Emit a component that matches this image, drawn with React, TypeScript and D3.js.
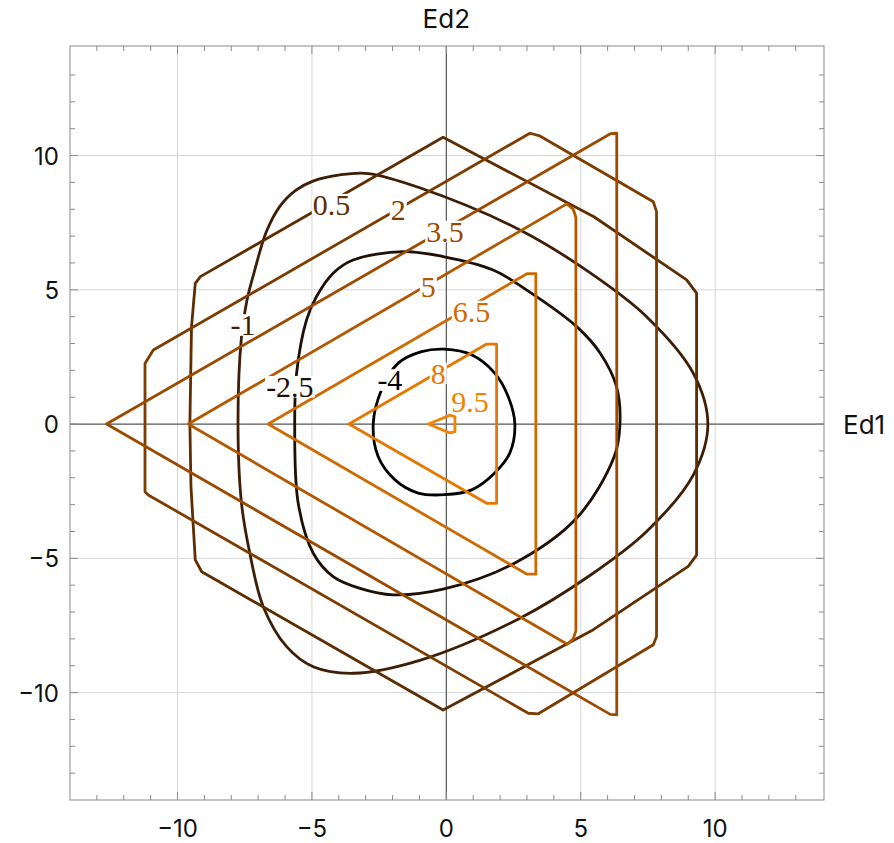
import React from "react";
import * as d3 from "d3";

const WIDTH = 894;
const HEIGHT = 843;

const X_DOMAIN: [number, number] = [-14, 14.05];
const Y_DOMAIN: [number, number] = [-14, 14.08];

const MAJOR_TICKS = [-10, -5, 0, 5, 10];
const X_TICK_LABELS = ["−10", "−5", "0", "5", "10"];
const Y_TICK_LABELS = ["−10", "−5", "0", "5", "10"];
const MINOR_TICKS = [-13, -12, -11, -9, -8, -7, -6, -4, -3, -2, -1, 1, 2, 3, 4, 6, 7, 8, 9, 11, 12, 13];
const GRID_VALUES = [-10, -5, 5, 10];

const LEVEL_NAMES = ["-4", "-2.5", "-1", "0.5", "2", "3.5", "5", "6.5", "8", "9.5"];
const LEVEL_COLORS = ["#000000", "#1f0f04", "#3e1e06", "#5e2e02", "#7e3c00", "#9c4a00", "#b45800", "#cf6a00", "#e67800", "#f28300"];

type P = [number, number];

// smooth closed contours
const C_M4: P[] = [[-2.72, 0], [-2.41, 1.28], [-1.79, 2.27], [-0.92, 2.7], [-0.06, 2.79], [0.94, 2.58], [1.8, 1.9], [2.3, 1.03], [2.55, 0], [2.36, -1.08], [1.8, -1.82], [0.94, -2.45], [-0.06, -2.63], [-1.05, -2.57], [-1.92, -2.07], [-2.54, -1.2]];
const C_M25: P[] = [[-5.64, 0], [-5.57, 1.9], [-5.2, 3.88], [-4.83, 4.75], [-4.21, 5.62], [-3.47, 6.11], [-1.61, 6.42], [-0.12, 6.24], [1.74, 5.74], [2.98, 5.0], [4.85, 3.63], [5.72, 2.65], [6.33, 1.4], [6.46, 0], [6.25, -1.2], [4.85, -3.5], [2.5, -5.2], [-0.12, -6.15], [-1.98, -6.36], [-3.21, -6.12], [-4.21, -5.68], [-4.95, -4.81], [-5.51, -2.95]];
const C_M1: P[] = [[-7.75, 0], [-7.62, 3.26], [-7.42, 4.6], [-7.15, 5.65], [-6.7, 7.15], [-6.2, 8.1], [-5.58, 8.72], [-4.96, 9.05], [-3.96, 9.28], [-2.9, 9.33], [-0.99, 8.8], [2.74, 7.23], [5.34, 5.64], [7.45, 4.0], [9.19, 1.89], [9.73, 0], [9.19, -1.89], [7.45, -4.0], [5.34, -5.64], [2.74, -7.23], [-0.99, -8.8], [-3.46, -9.28], [-4.95, -9.04], [-5.94, -8.29], [-6.81, -6.8], [-7.31, -4.81], [-7.62, -2.95]];

// polygonal contours
const C_05: P[] = [[-9.34, 5.24], [-9.15, 5.49], [-0.12, 10.68], [5.49, 7.72], [8.94, 5.37], [9.31, 4.88], [9.31, -4.88], [9.0, -5.3], [5.4, -7.7], [-0.12, -10.65], [-9.1, -5.5], [-9.34, -5.06], [-9.5, -2.33], [-9.54, 0], [-9.48, 3.62]];
const C_2: P[] = [[-11.21, 2.26], [-10.9, 2.76], [3.11, 10.83], [3.48, 10.73], [7.7, 8.28], [7.82, 7.91], [7.82, -7.91], [7.7, -8.22], [3.42, -10.79], [3.05, -10.77], [-11.09, -2.64], [-11.21, -2.52]];
const C_35: P[] = [[-12.64, 0], [6.12, 10.82], [6.34, 10.83], [6.34, -10.83], [6.1, -10.81]];
const C_5: P[] = [[-9.6, 0], [4.48, 8.2], [4.72, 8.0], [4.82, 7.7], [4.82, -7.7], [4.72, -8.0], [4.5, -8.2]];
const C_65: P[] = [[-6.63, 0], [3.0, 5.6], [3.33, 5.6], [3.33, -5.59], [3.0, -5.59]];
const C_8: P[] = [[-3.62, 0], [1.5, 2.98], [1.87, 2.98], [1.87, -2.95], [1.5, -2.95]];
const C_95: P[] = [[-0.67, 0], [0.13, 0.33], [0.32, 0.28], [0.32, -0.28], [0.13, -0.33]];

const CONTOUR_POINTS = [C_M4, C_M25, C_M1, C_05, C_2, C_35, C_5, C_65, C_8, C_95];
const CONTOUR_SMOOTH = [true, true, true, false, false, false, false, false, false, false];

// label anchor points (data coords)
const LABEL_POS: P[] = [[-2.1, 1.64], [-5.82, 1.39], [-7.56, 3.69], [-4.27, 8.17], [-1.79, 7.97], [-0.05, 7.17], [-0.67, 5.12], [0.94, 4.19], [-0.3, 1.89], [0.88, 0.83]];

const LABEL_FS = 30;
const TICK_FS = 24;
const AXIS_LABEL_FS = 26;
const SANS = "Inter, 'Noto Sans', sans-serif";
const SERIF = "'Liberation Serif', 'Times New Roman', serif";

function charW(c: string) {
  if (c === ".") return 0.25;
  if (c === "-") return 0.333;
  return 0.5;
}

export default function App() {
  const left = 70, right = 824, top = 46, bottom = 800;
  const x = d3.scaleLinear().domain(X_DOMAIN).range([left, right]);
  const y = d3.scaleLinear().domain(Y_DOMAIN).range([bottom, top]);

  const smooth = d3.line<P>().x((d) => x(d[0])).y((d) => y(d[1])).curve(d3.curveCatmullRomClosed.alpha(0.5));
  const poly = d3.line<P>().x((d) => x(d[0])).y((d) => y(d[1])).curve(d3.curveLinearClosed);

  const frameColor = "#8a8a8a";

  return (
    <svg width={WIDTH} height={HEIGHT} style={{ display: "block", position: "absolute", left: 0, top: 0 }}>
      <rect x={0} y={0} width={WIDTH} height={HEIGHT} fill="#fff" />
      {/* grid */}
      {GRID_VALUES.map((v) => (
        <g key={"g" + v}>
          <line x1={x(v)} x2={x(v)} y1={top} y2={bottom} stroke="#d6d6d6" strokeWidth={1} />
          <line x1={left} x2={right} y1={y(v)} y2={y(v)} stroke="#d6d6d6" strokeWidth={1} />
        </g>
      ))}
      {/* axes */}
      <line x1={x(0)} x2={x(0)} y1={top} y2={bottom} stroke="#555" strokeWidth={1.2} />
      <line x1={left} x2={right} y1={y(0)} y2={y(0)} stroke="#555" strokeWidth={1.2} />
      {/* contours */}
      {CONTOUR_POINTS.map((pts, i) => (
        <path key={"c" + i} d={(CONTOUR_SMOOTH[i] ? smooth(pts) : poly(pts)) || ""} fill="none" stroke={LEVEL_COLORS[i]} strokeWidth={2.8} strokeLinejoin="round" />
      ))}
      {/* labels */}
      {LEVEL_NAMES.map((name, i) => {
        const cx = x(LABEL_POS[i][0]);
        const cy = y(LABEL_POS[i][1]);
        const w = name.split("").reduce((s, c) => s + charW(c), 0) * LABEL_FS;
        const h = 0.72 * LABEL_FS;
        return (
          <g key={"l" + i}>
            <rect x={cx - w / 2 - 1} y={cy - h / 2} width={w + 2} height={h} fill="#fff" />
            <text x={cx} y={cy + 0.34 * LABEL_FS} textAnchor="middle" fontFamily={SERIF} fontSize={LABEL_FS} fill={LEVEL_COLORS[i]}>
              {name}
            </text>
          </g>
        );
      })}
      {/* frame */}
      <rect x={left} y={top} width={right - left} height={bottom - top} fill="none" stroke={frameColor} strokeWidth={1} />
      {MAJOR_TICKS.map((v) => (
        <g key={"mt" + v} stroke={frameColor} strokeWidth={1}>
          <line x1={x(v)} x2={x(v)} y1={bottom} y2={bottom - 8} />
          <line x1={x(v)} x2={x(v)} y1={top} y2={top + 8} />
          <line x1={left} x2={left + 8} y1={y(v)} y2={y(v)} />
          <line x1={right} x2={right - 8} y1={y(v)} y2={y(v)} />
        </g>
      ))}
      {MINOR_TICKS.map((v) => (
        <g key={"nt" + v} stroke={frameColor} strokeWidth={1}>
          <line x1={x(v)} x2={x(v)} y1={bottom} y2={bottom - 5} />
          <line x1={x(v)} x2={x(v)} y1={top} y2={top + 5} />
          <line x1={left} x2={left + 5} y1={y(v)} y2={y(v)} />
          <line x1={right} x2={right - 5} y1={y(v)} y2={y(v)} />
        </g>
      ))}
      {MAJOR_TICKS.map((v, i) => (
        <text key={"xl" + v} x={x(v)} y={bottom + 37} textAnchor="middle" fontFamily={SANS} fontSize={TICK_FS} fill="#111">
          {X_TICK_LABELS[i]}
        </text>
      ))}
      {MAJOR_TICKS.map((v, i) => (
        <text key={"yl" + v} x={left - 11} y={y(v) + 9} textAnchor="end" fontFamily={SANS} fontSize={TICK_FS} fill="#111">
          {Y_TICK_LABELS[i]}
        </text>
      ))}
      <text x={x(0)} y={28} textAnchor="middle" fontFamily={SANS} fontSize={AXIS_LABEL_FS} fill="#111">Ed2</text>
      <text x={right + 19} y={y(0) + 10} textAnchor="start" fontFamily={SANS} fontSize={AXIS_LABEL_FS} fill="#111">Ed1</text>
    </svg>
  );
}
